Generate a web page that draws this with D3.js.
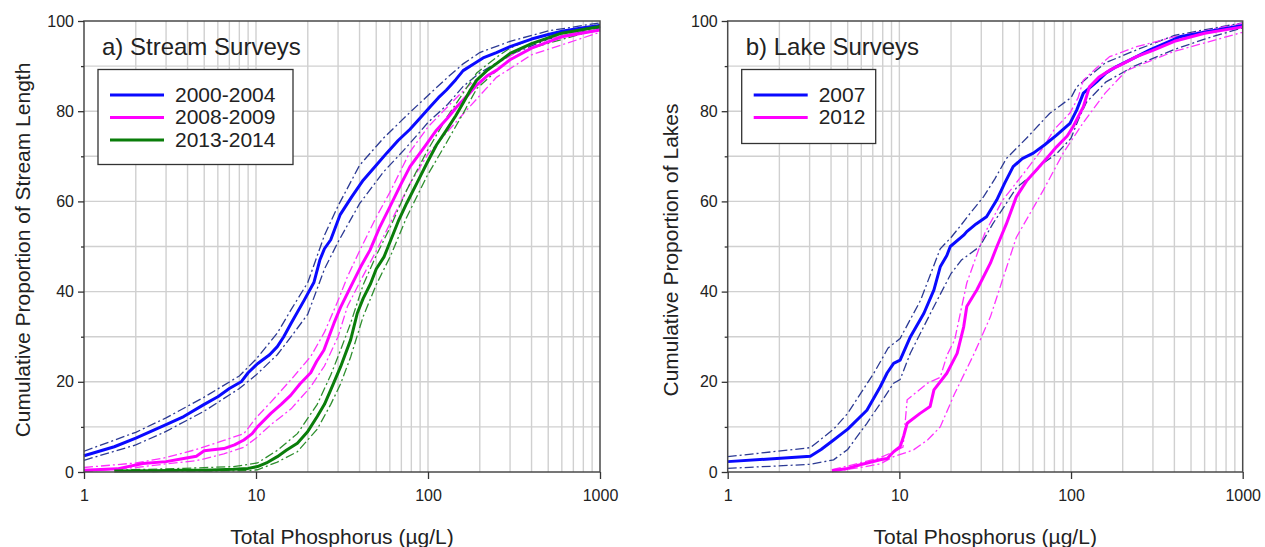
<!DOCTYPE html>
<html><head><meta charset="utf-8">
<script src="https://cdn.jsdelivr.net/npm/d3@7"></script>
<style>
body{margin:0;background:#fff}
text{font-family:"Liberation Sans",Arial,sans-serif;fill:#222}
</style>
</head><body>
<svg id="chart" width="1265" height="547"></svg>
<script>
// ---------- DATA ----------
const streamPeriods = ["2000-2004", "2008-2009", "2013-2014"];
const lakeYears = ["2007", "2012"];
const xTickLabels = [1, 10, 100, 1000];
const yTickLabels = [0, 20, 40, 60, 80, 100];

// [Total P (µg/L), cumulative %]
const stream2000Main = [[1,3.6],[1.5,5.6],[2,7.5],[3,10.5],[3.8,12.3],[5,15],[6,16.7],[7,18.5],[8.2,20],[9,22],[10.2,24],[12,26],[13.3,27.8],[14.5,30],[16,33],[19,38],[21.7,42],[23.5,47],[25,49.5],[27.2,51.5],[30.8,57],[36,61],[42,64.7],[50,68],[57.5,70.7],[67,73.5],[78.6,76],[90,78.5],[103,81],[115,83],[128,84.7],[145,87],[160,89],[185,90.5],[209,91.8],[250,93],[300,94.3],[400,96],[500,97],[612,97.8],[800,98.5],[1000,99]];
const stream2000Upper = [[1,4.6],[2,8.8],[3,12],[5,16.6],[8,21.3],[10,25],[13.3,30.8],[16,36],[20,42],[25,52.5],[30,59],[40,68],[55,74],[75,79],[100,83.5],[130,87.5],[160,90.5],[200,93],[300,95.5],[500,97.8],[1000,99.6]];
const stream2000Lower = [[1,2.6],[2,6],[3,9],[5,13.5],[8,18.5],[10,21.5],[13.3,26],[16,30],[20,35],[25,45],[30,51],[40,59.5],[55,66.5],[75,72],[100,77.5],[130,81.5],[160,85.5],[200,88.5],[300,92.5],[500,96],[1000,98.5]];

const stream2008Main = [[1,0.4],[1.56,0.7],[2.2,1.9],[3,2.3],[3.8,3.0],[4.5,3.5],[5,4.7],[6.5,5.2],[7.5,6],[8.5,7.1],[9.5,8.5],[10.2,10],[12.2,13],[14,15],[15.9,17],[18,19.5],[20.8,22],[22.5,24.5],[24.8,27],[28.4,33],[31,36.5],[34,39.6],[40.6,45.5],[46,49.2],[52,54],[60,58.8],[70,64],[78.6,67.7],[95,72],[112,75.8],[130,78.5],[147,81],[170,83.5],[192,85.8],[220,87.8],[251,89.1],[300,91.4],[400,94],[600,96.5],[1000,98]];
const stream2008Upper = [[1,1],[2,2],[3,3.2],[4.5,5],[6.5,7],[8.5,8.5],[10,12],[12.2,15.5],[16,20.5],[20.8,25.6],[25,31],[30,38],[34,43.3],[40,49],[50,56.5],[60,62],[78.6,71],[100,76.5],[130,81],[170,85.5],[250,90.5],[400,95],[1000,98.8]];
const stream2008Lower = [[1,0.1],[2,1],[3,1.8],[4.5,2.5],[6.5,4],[8.5,5.5],[10,7.5],[12.2,10.5],[16,14],[20.8,18.9],[25,23.5],[30,30],[34,36.7],[40,42],[50,49],[60,55],[78.6,64],[100,70.5],[130,75.5],[170,80.5],[250,87.5],[400,92.5],[1000,97.5]];

const stream2013Main = [[1.5,0.2],[2.5,0.3],[3.8,0.4],[5,0.4],[7.4,0.6],[9,0.8],[10.2,1.2],[11.5,2],[13.3,3.4],[15,4.8],[17.4,6.4],[20,9],[22.7,12.3],[25,15],[27.2,18.2],[31,23.3],[35.5,29.3],[38.8,35.2],[42,38.5],[46.4,41.8],[50,45],[55.5,47.7],[60.7,51.4],[67,55.5],[75.2,59.6],[86,64],[98.3,68.4],[112,72.5],[128,75.8],[145,79],[160,81.8],[175,84.5],[192,86.9],[220,89],[251,90.6],[300,92.8],[400,95],[600,97.3],[1000,98.8]];
const stream2013Upper = [[1.5,0.4],[3.8,0.8],[7.4,1.2],[10.2,2],[13.3,4.8],[17.4,8.5],[22.7,15],[27.2,21.5],[31,27],[35.5,33],[42,41.5],[50,48],[60.7,54.5],[75.2,62.5],[98.3,71],[128,78.5],[160,84],[192,88.5],[251,92],[300,94],[400,96],[1000,99.3]];
const stream2013Lower = [[2.5,0.1],[5,0.2],[9,0.3],[10.2,0.5],[13.3,2.2],[17.4,4.5],[22.7,9.5],[27.2,15],[31,19.5],[35.5,25.5],[42,34.5],[50,41.5],[60.7,48],[75.2,56.5],[98.3,65.5],[128,73],[160,79.5],[192,85],[251,89],[300,91.5],[400,94],[1000,98.3]];

const lake2007Main = [[1,2.3],[3.03,3.5],[3.5,5],[4.14,7.1],[5,9.5],[6.47,13.7],[7.74,18.9],[8.5,22],[9.26,24.1],[10.1,24.8],[11.6,30],[13.9,35.2],[15.9,40.4],[17.3,45.5],[18.9,48],[19.8,50],[23.7,52.5],[24.7,53.3],[28,55],[32.2,56.6],[36.9,60.3],[41,64],[46,67.7],[52,69.5],[60.3,70.7],[70,72.5],[82.4,74.7],[98.6,77.3],[108,80.3],[118,84],[141,86.5],[160,88.5],[184,89.9],[241,92.1],[288,93.6],[430,96.5],[620,97.6],[1000,99]];
const lake2007Upper = [[1,3.4],[3.03,5.4],[4.14,9.5],[5,13],[7.1,21.9],[8.6,27.5],[10.1,29.6],[13.3,38.1],[17.3,49.5],[20,52],[22.5,54.4],[26,57.5],[30.9,61],[36,65],[42,69.5],[55,74],[75,79.5],[100,83],[108,85.4],[130,88],[158,90.7],[241,93.6],[400,96.8],[1000,99.6]];
const lake2007Lower = [[1,0.8],[3.03,1.7],[4.14,2.7],[5,5],[6.47,10.8],[8,16],[9.26,19.7],[10.1,20.5],[11.6,26.4],[15.9,36.7],[20,44],[23,47],[29.4,50],[35,55],[41,59],[48,63],[60,66],[69,68.5],[82,70.5],[100,74],[110,78],[123,82],[160,86.5],[231,89.9],[394,93.6],[600,96],[1000,98.5]];

const lake2012Main = [[4.05,0.3],[5,0.8],[5.92,1.6],[7.74,2.7],[8.5,3],[9.26,4.5],[10.1,5.6],[10.6,8],[11.1,10.8],[13.2,13],[15.1,14.5],[15.9,18.2],[18.9,21.9],[21.7,26.3],[23.7,32.2],[24.7,36.7],[28.3,40.4],[33.9,46.3],[37,50],[42,55],[48,61],[55,64.5],[63,67],[72,69.5],[82.4,72.1],[95,74.5],[103,76.6],[118,81],[128,85.4],[145,87.5],[168,89.1],[200,90.5],[241,92.1],[300,93.5],[400,95.5],[600,97.3],[1000,98.7]];
const lake2012Upper = [[4.05,0.5],[5.92,2],[7.74,3.2],[9.26,4.5],[10.5,5.5],[11.1,16],[14.6,19.7],[17.3,21],[19,26],[21,29.3],[24.7,41.9],[29.4,50],[31.5,53],[40,60.3],[55,67],[69,72],[80,76],[98.6,79.6],[110,83],[118,86.9],[140,89.5],[168,92.1],[241,94.3],[400,96.5],[1000,99.5]];
const lake2012Lower = [[4.05,0.1],[5.92,1],[7.74,1.8],[9.26,3.4],[12.1,4.9],[14.6,7.1],[17.3,10],[21,17.4],[27.3,26.3],[33.9,34.4],[41,44],[48,52],[69,62.5],[90,70.7],[118,77.5],[158,84],[210,89],[394,93.2],[1000,97.5]];

// ---------- STYLE / LAYOUT ----------
const colors = {blue:"#0a0aff", magenta:"#ff00ff", green:"#0a7d0a"};
const boundColors = {blue:"#2c3a94", magenta:"#ff33ff", green:"#2e8f2e"};

const panels = [
  {x0:84, x1:600, title:"a) Stream Surveys", ytitle:"Cumulative Proportion of Stream Length", ytx:29.5,
   legend:{x:98, w:195, h:95},
   series:[
     {name:streamPeriods[0], c:"blue", main:stream2000Main, up:stream2000Upper, lo:stream2000Lower},
     {name:streamPeriods[1], c:"magenta", main:stream2008Main, up:stream2008Upper, lo:stream2008Lower},
     {name:streamPeriods[2], c:"green", main:stream2013Main, up:stream2013Upper, lo:stream2013Lower}
   ]},
  {x0:727.7, x1:1242.7, title:"b) Lake Surveys", ytitle:"Cumulative Proportion of Lakes", ytx:677.5,
   legend:{x:741.7, w:134, h:74},
   series:[
     {name:lakeYears[0], c:"blue", main:lake2007Main, up:lake2007Upper, lo:lake2007Lower},
     {name:lakeYears[1], c:"magenta", main:lake2012Main, up:lake2012Upper, lo:lake2012Lower}
   ]}
];

const yTop = 21, yBot = 472;
const svg = d3.select("#chart");

panels.forEach(p => {
  const x = d3.scaleLog().domain([1,1000]).range([p.x0, p.x1]);
  const y = d3.scaleLinear().domain([0,100]).range([yBot, yTop]);
  const g = svg.append("g");

  // grid
  g.append("g").selectAll("line").data(x.ticks().filter(v => v>1 && v<1000)).join("line")
    .attr("x1", d=>x(d)).attr("x2", d=>x(d)).attr("y1", yTop).attr("y2", yBot)
    .attr("stroke", "#d0d0d0").attr("stroke-width", 1.4);
  g.append("g").selectAll("line").data(d3.range(10,100,10)).join("line")
    .attr("y1", d=>y(d)).attr("y2", d=>y(d)).attr("x1", p.x0).attr("x2", p.x1)
    .attr("stroke", "#d0d0d0").attr("stroke-width", 1.4);

  // lines
  const line = d3.line().x(d=>x(d[0])).y(d=>y(d[1]));
  p.series.forEach(s => {
    [s.up, s.lo].forEach(b => {
      g.append("path").datum(b).attr("d", line).attr("fill","none")
        .attr("stroke", boundColors[s.c]).attr("stroke-width", 1.3)
        .attr("stroke-dasharray", "9,3,2,3");
    });
  });
  p.series.forEach(s => {
    g.append("path").datum(s.main).attr("d", line).attr("fill","none")
      .attr("stroke", colors[s.c]).attr("stroke-width", 3).attr("stroke-linejoin","round");
  });

  // frame
  g.append("rect").attr("x", p.x0).attr("y", yTop).attr("width", p.x1-p.x0).attr("height", yBot-yTop)
    .attr("fill","none").attr("stroke","#4a4a4a").attr("stroke-width",1.5);

  // axes
  g.append("g").attr("transform", `translate(0,${yBot})`)
    .call(d3.axisBottom(x).tickValues(xTickLabels).tickSize(7).tickPadding(11).tickFormat(d3.format("d")));
  g.append("g").attr("transform", `translate(${p.x0},0)`)
    .call(d3.axisLeft(y).tickValues(yTickLabels).tickSize(6).tickPadding(4));
  g.append("g").attr("transform", `translate(${p.x0},0)`)
    .call(d3.axisLeft(y).tickValues(d3.range(10,100,20)).tickSize(3).tickFormat(""));
  g.selectAll(".domain").remove();
  g.selectAll(".tick line").attr("stroke","#333").attr("stroke-width",1.3);
  g.selectAll(".tick text").attr("font-size",16).attr("fill","#222")
    .style("font-family","'Liberation Sans',Arial,sans-serif");

  // axis titles
  g.append("text").attr("x", (p.x0+p.x1)/2).attr("y", 544).attr("text-anchor","middle")
    .attr("font-size",21).text("Total Phosphorus (µg/L)");
  g.append("text").attr("transform", `translate(${p.ytx},250) rotate(-90)`).attr("text-anchor","middle")
    .attr("font-size",21).text(p.ytitle);

  // panel title
  g.append("text").attr("x", p.x0+18).attr("y", 55).attr("font-size",24).text(p.title);

  // legend
  const L = p.legend;
  g.append("rect").attr("x", L.x).attr("y", 69.5).attr("width", L.w).attr("height", L.h)
    .attr("fill","#fff").attr("stroke","#333").attr("stroke-width",1.3);
  p.series.forEach((s,i) => {
    const ly = 95 + i*22.5;
    g.append("line").attr("x1", L.x+12).attr("x2", L.x+66).attr("y1", ly).attr("y2", ly)
      .attr("stroke", colors[s.c]).attr("stroke-width", 3);
    g.append("text").attr("x", L.x+77).attr("y", ly+6.8).attr("font-size",21).text(s.name);
  });
});
</script>
</body></html>
